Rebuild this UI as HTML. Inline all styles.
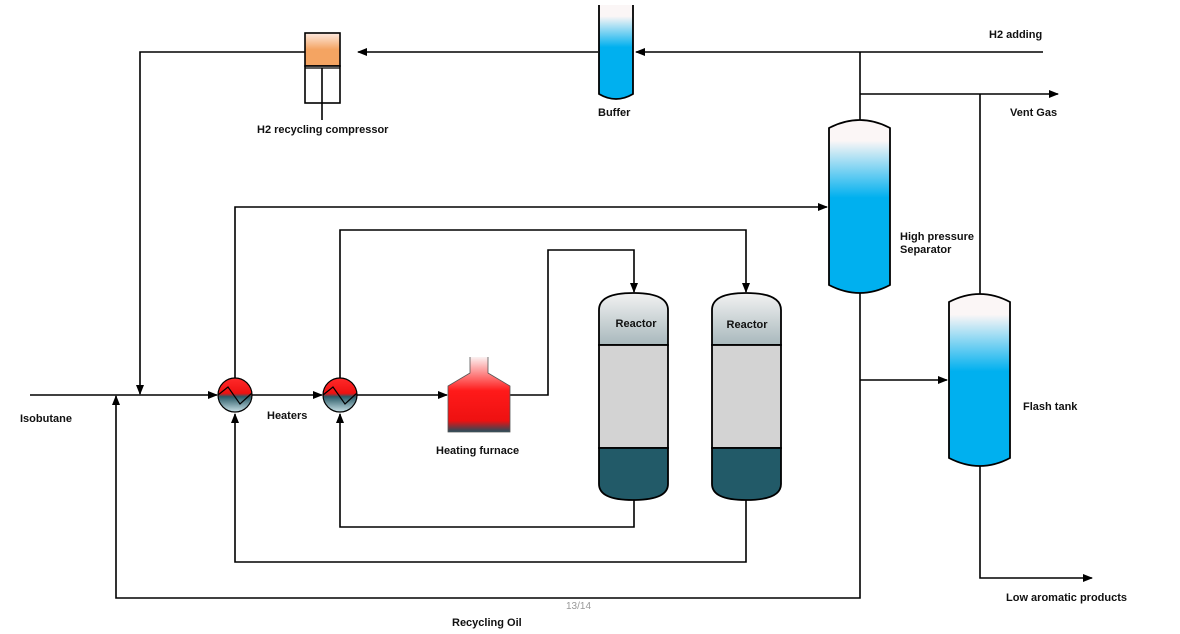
<!DOCTYPE html>
<html><head><meta charset="utf-8"><style>
html,body{margin:0;padding:0;background:#fff;}
svg{display:block;}
text{font-family:"Liberation Sans",Arial,sans-serif;font-weight:bold;font-size:11px;fill:#111;}
</style></head><body>
<svg width="1180" height="634" viewBox="0 0 1180 634" xmlns="http://www.w3.org/2000/svg">
<defs>
<marker id="a" markerWidth="10" markerHeight="10" refX="9" refY="5" orient="auto" markerUnits="userSpaceOnUse"><path d="M0,1 L10,5 L0,9 Z" fill="#000"/></marker>
<linearGradient id="blue" x1="0" y1="0" x2="0" y2="1"><stop offset="0" stop-color="#fbf6f6"/><stop offset="0.12" stop-color="#fbf6f6"/><stop offset="0.45" stop-color="#00b0ef"/><stop offset="1" stop-color="#00b0ef"/></linearGradient>
<linearGradient id="org" x1="0" y1="0" x2="0" y2="1"><stop offset="0" stop-color="#fde9df"/><stop offset="0.5" stop-color="#f4a462"/><stop offset="1" stop-color="#f4a462"/></linearGradient>
<linearGradient id="red" x1="0" y1="0" x2="0" y2="1"><stop offset="0" stop-color="#fbf1f1"/><stop offset="0.45" stop-color="#ff1a1a"/><stop offset="0.85" stop-color="#ee1111"/><stop offset="1" stop-color="#1f4f5e"/></linearGradient>
<linearGradient id="hx" x1="0" y1="0" x2="0" y2="1"><stop offset="0" stop-color="#ff2a2a"/><stop offset="0.45" stop-color="#ee1111"/><stop offset="0.55" stop-color="#2a5a66"/><stop offset="1" stop-color="#c8e0e6"/></linearGradient>
<linearGradient id="rt" x1="0" y1="0" x2="0" y2="1"><stop offset="0" stop-color="#f2f2f2"/><stop offset="1" stop-color="#a8b8bc"/></linearGradient>
</defs>
<g fill="none" stroke="#000" stroke-width="1.6">
<!-- top H2 line -->
<path d="M1043,52 H636" marker-end="url(#a)"/>
<path d="M598,52 H358" marker-end="url(#a)"/>
<path d="M305,52 H140 V394" marker-end="url(#a)"/>
<path d="M860,52 V120"/>
<path d="M860,94 H1058" marker-end="url(#a)"/>
<path d="M980,94 V295"/>
<!-- main feed -->
<path d="M30,395 H217" marker-end="url(#a)"/>
<path d="M252,395 H322" marker-end="url(#a)"/>
<path d="M357,395 H447" marker-end="url(#a)"/>
<path d="M510,395 H548 V250 H634 V292" marker-end="url(#a)"/>
<path d="M340,378 V230 H746 V292" marker-end="url(#a)"/>
<path d="M235,378 V207 H827" marker-end="url(#a)"/>
<path d="M634,500 V527 H340 V414" marker-end="url(#a)"/>
<path d="M746,500 V562 H235 V414" marker-end="url(#a)"/>
<path d="M860,292 V598 H116 V396" marker-end="url(#a)"/>
<path d="M860,380 H947" marker-end="url(#a)"/>
<path d="M980,464 V578 H1092" marker-end="url(#a)"/>
<path d="M322,103 V120"/>
</g>
<!-- compressor -->
<rect x="305" y="33" width="35" height="33" fill="url(#org)" stroke="#000" stroke-width="1.6"/>
<rect x="305" y="66" width="35" height="37" fill="#fff" stroke="#000" stroke-width="1.6"/>
<line x1="305" y1="68" x2="340" y2="68" stroke="#000" stroke-width="1.2"/>
<line x1="322" y1="68" x2="322" y2="103" stroke="#000" stroke-width="1.6"/>
<!-- buffer -->
<path d="M599,5 V94 Q616,104 633,94 V5" fill="url(#blue)" stroke="#000" stroke-width="1.8"/>
<!-- HP separator -->
<path d="M829,128 Q860,112 890,128 V285 Q860,301 829,285 Z" fill="url(#blue)" stroke="#000" stroke-width="1.8"/>
<!-- Flash tank -->
<path d="M949,302 Q980,286 1010,302 V458 Q980,474 949,458 Z" fill="url(#blue)" stroke="#000" stroke-width="1.8"/>
<!-- heaters -->
<g stroke="#000" stroke-width="1.2">
<circle cx="235" cy="395" r="17" fill="url(#hx)"/>
<circle cx="340" cy="395" r="17" fill="url(#hx)"/>
</g>
<g fill="none" stroke="#000" stroke-width="1.2">
<path d="M218,395 L228,387 L240,404 L252,393"/>
<path d="M323,395 L333,387 L345,404 L357,393"/>
</g>
<!-- furnace -->
<path d="M470,357 V373 L448,386 V432 H510 V386 L488,373 V357" fill="url(#red)"/>
<path d="M470,357 V373 L448,386 V432 H510 V386 L488,373 V357" fill="none" stroke="#555" stroke-width="0.8"/>
<!-- reactors -->
<g stroke="#000" stroke-width="1.8">
<path d="M599,345 V310 Q599,293 633,293 Q668,293 668,310 V345 Z" fill="url(#rt)"/>
<rect x="599" y="345" width="69" height="103" fill="#d3d3d3"/>
<path d="M599,448 H668 V484 Q668,500 633,500 Q599,500 599,484 Z" fill="#225a68"/>
<path d="M712,345 V310 Q712,293 746,293 Q781,293 781,310 V345 Z" fill="url(#rt)"/>
<rect x="712" y="345" width="69" height="103" fill="#d3d3d3"/>
<path d="M712,448 H781 V484 Q781,500 746,500 Q712,500 712,484 Z" fill="#225a68"/>
</g>
<text x="636" y="327" text-anchor="middle">Reactor</text>
<text x="747" y="328" text-anchor="middle">Reactor</text>
<text x="989" y="38">H2 adding</text>
<text x="1010" y="116">Vent Gas</text>
<text x="900" y="240">High pressure</text>
<text x="900" y="253">Separator</text>
<text x="1023" y="410">Flash tank</text>
<text x="1006" y="601">Low aromatic products</text>
<text x="452" y="626">Recycling Oil</text>
<text x="20" y="422">Isobutane</text>
<text x="267" y="419">Heaters</text>
<text x="436" y="454">Heating furnace</text>
<text x="598" y="116">Buffer</text>
<text x="257" y="133">H2 recycling compressor</text>
<text x="566" y="609" style="font-weight:normal;font-size:10px;fill:#999">13/14</text>
</svg>
</body></html>
